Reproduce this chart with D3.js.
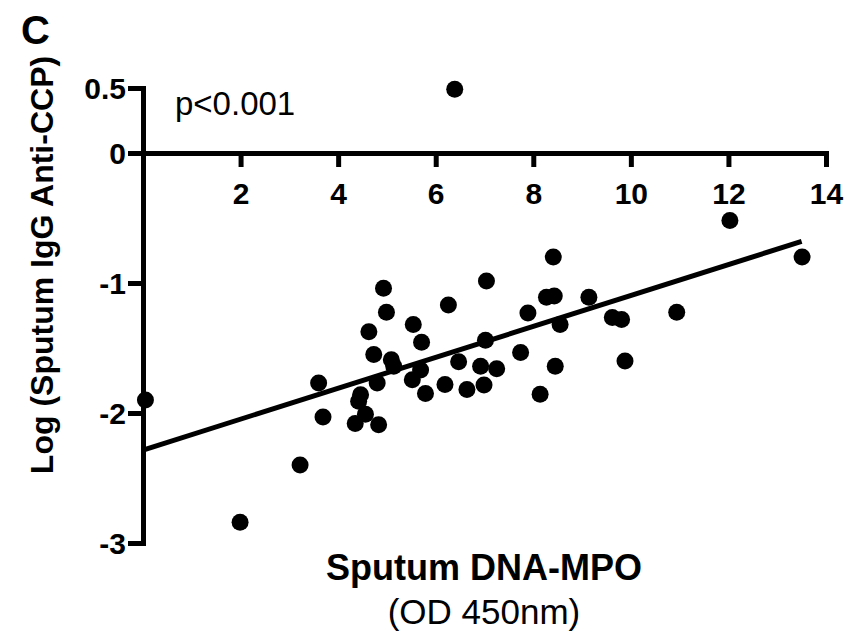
<!DOCTYPE html>
<html>
<head>
<meta charset="utf-8">
<script src="https://cdn.jsdelivr.net/npm/d3@7"></script>
<style>
  body { margin: 0; background: #fff; }
  svg { display: block; font-family: "Liberation Sans", Arial, sans-serif; }
  .axis path, .axis line { stroke: #000; stroke-width: 5; }
  .axis text { font-size: 30px; font-weight: bold; fill: #000; }
</style>
</head>
<body>
<div id="chart"></div>
<script>
// Sputum DNA-MPO (OD 450nm) vs Log(Sputum IgG Anti-CCP)
const dnaMpo = [
  0.05, 1.99, 3.22, 3.60, 3.69, 4.35, 4.42, 4.46, 4.56, 4.63,
  4.73, 4.80, 4.83, 4.93, 4.99, 5.09, 5.14, 5.52, 5.54, 5.69,
  5.71, 5.79, 6.19, 6.26, 6.39, 6.47, 6.64, 6.92, 6.99, 7.02,
  7.04, 7.25, 7.74, 7.89, 8.14, 8.27, 8.43, 8.41, 8.45, 8.55,
  9.14, 9.62, 9.81, 9.88, 10.94, 12.03, 13.51
];
const logAntiCcp = [
  -1.90, -2.84, -2.40, -1.77, -2.03, -2.08, -1.91, -1.86, -2.01, -1.375,
  -1.55, -1.77, -2.09, -1.04, -1.225, -1.59, -1.64, -1.745, -1.32, -1.67,
  -1.455, -1.85, -1.78, -1.17, 0.49, -1.605, -1.82, -1.64, -1.785, -1.44,
  -0.985, -1.66, -1.535, -1.23, -1.855, -1.11, -1.10, -0.80, -1.64, -1.32,
  -1.11, -1.265, -1.28, -1.60, -1.225, -0.52, -0.80
];
// regression line end points as drawn
const fitX = [0, 13.5];
const fitY = [-2.285, -0.68];

const xTicks = [2, 4, 6, 8, 10, 12, 14];
const yTicks = [-3, -2, -1, 0, 0.5];
const yTickLabels = ["-3", "-2", "-1", "0", "0.5"];

const width = 862, height = 633;
const svg = d3.select("#chart").append("svg")
  .attr("width", width)
  .attr("height", height);

const x = d3.scaleLinear().domain([0, 14]).range([143, 826]);
const y = d3.scaleLinear().domain([-3, 0.5]).range([543, 88]);

// Y axis
const yAxis = d3.axisLeft(y)
  .tickValues(yTicks)
  .tickFormat((d, i) => yTickLabels[i])
  .tickSize(15)
  .tickSizeOuter(0)
  .tickPadding(2);
const yAxisG = svg.append("g")
  .classed("axis", true)
  .attr("transform", "translate(" + x(0) + ",0)")
  .call(yAxis);
yAxisG.select(".domain").attr("stroke-linecap", "square");
yAxisG.selectAll("text").attr("dy", "0.36em");

// X axis, crossing at y = 0
const xAxis = d3.axisBottom(x)
  .tickValues(xTicks)
  .tickSize(14)
  .tickSizeOuter(0)
  .tickPadding(0);
const xAxisG = svg.append("g")
  .classed("axis", true)
  .attr("transform", "translate(0," + y(0) + ")")
  .call(xAxis);
xAxisG.select(".domain").attr("stroke-linecap", "square");
xAxisG.selectAll("text").attr("y", 51).attr("dy", 0);

// regression line
svg.append("line")
  .attr("x1", x(fitX[0]))
  .attr("y1", y(fitY[0]))
  .attr("x2", x(fitX[1]))
  .attr("y2", y(fitY[1]))
  .attr("stroke", "#000")
  .attr("stroke-width", 5);

// points
svg.append("g")
  .selectAll("circle")
  .data(dnaMpo)
  .enter()
  .append("circle")
  .attr("cx", d => x(d))
  .attr("cy", (d, i) => y(logAntiCcp[i]))
  .attr("r", 8.5)
  .attr("fill", "#000");

// p value
svg.append("text")
  .attr("x", 175)
  .attr("y", 115)
  .attr("font-size", 33)
  .text("p<0.001");

// panel letter
svg.append("text")
  .attr("x", 21)
  .attr("y", 44)
  .attr("font-size", 40)
  .attr("font-weight", "bold")
  .text("C");

// y title
svg.append("text")
  .attr("transform", "translate(53,265) rotate(-90)")
  .attr("text-anchor", "middle")
  .attr("font-size", 32)
  .attr("font-weight", "bold")
  .text("Log (Sputum IgG Anti-CCP)");

// x title
svg.append("text")
  .attr("x", 484)
  .attr("y", 580)
  .attr("text-anchor", "middle")
  .attr("font-size", 36)
  .attr("font-weight", "bold")
  .text("Sputum DNA-MPO");
svg.append("text")
  .attr("x", 484)
  .attr("y", 624)
  .attr("text-anchor", "middle")
  .attr("font-size", 35)
  .text("(OD 450nm)");
</script>
</body>
</html>
